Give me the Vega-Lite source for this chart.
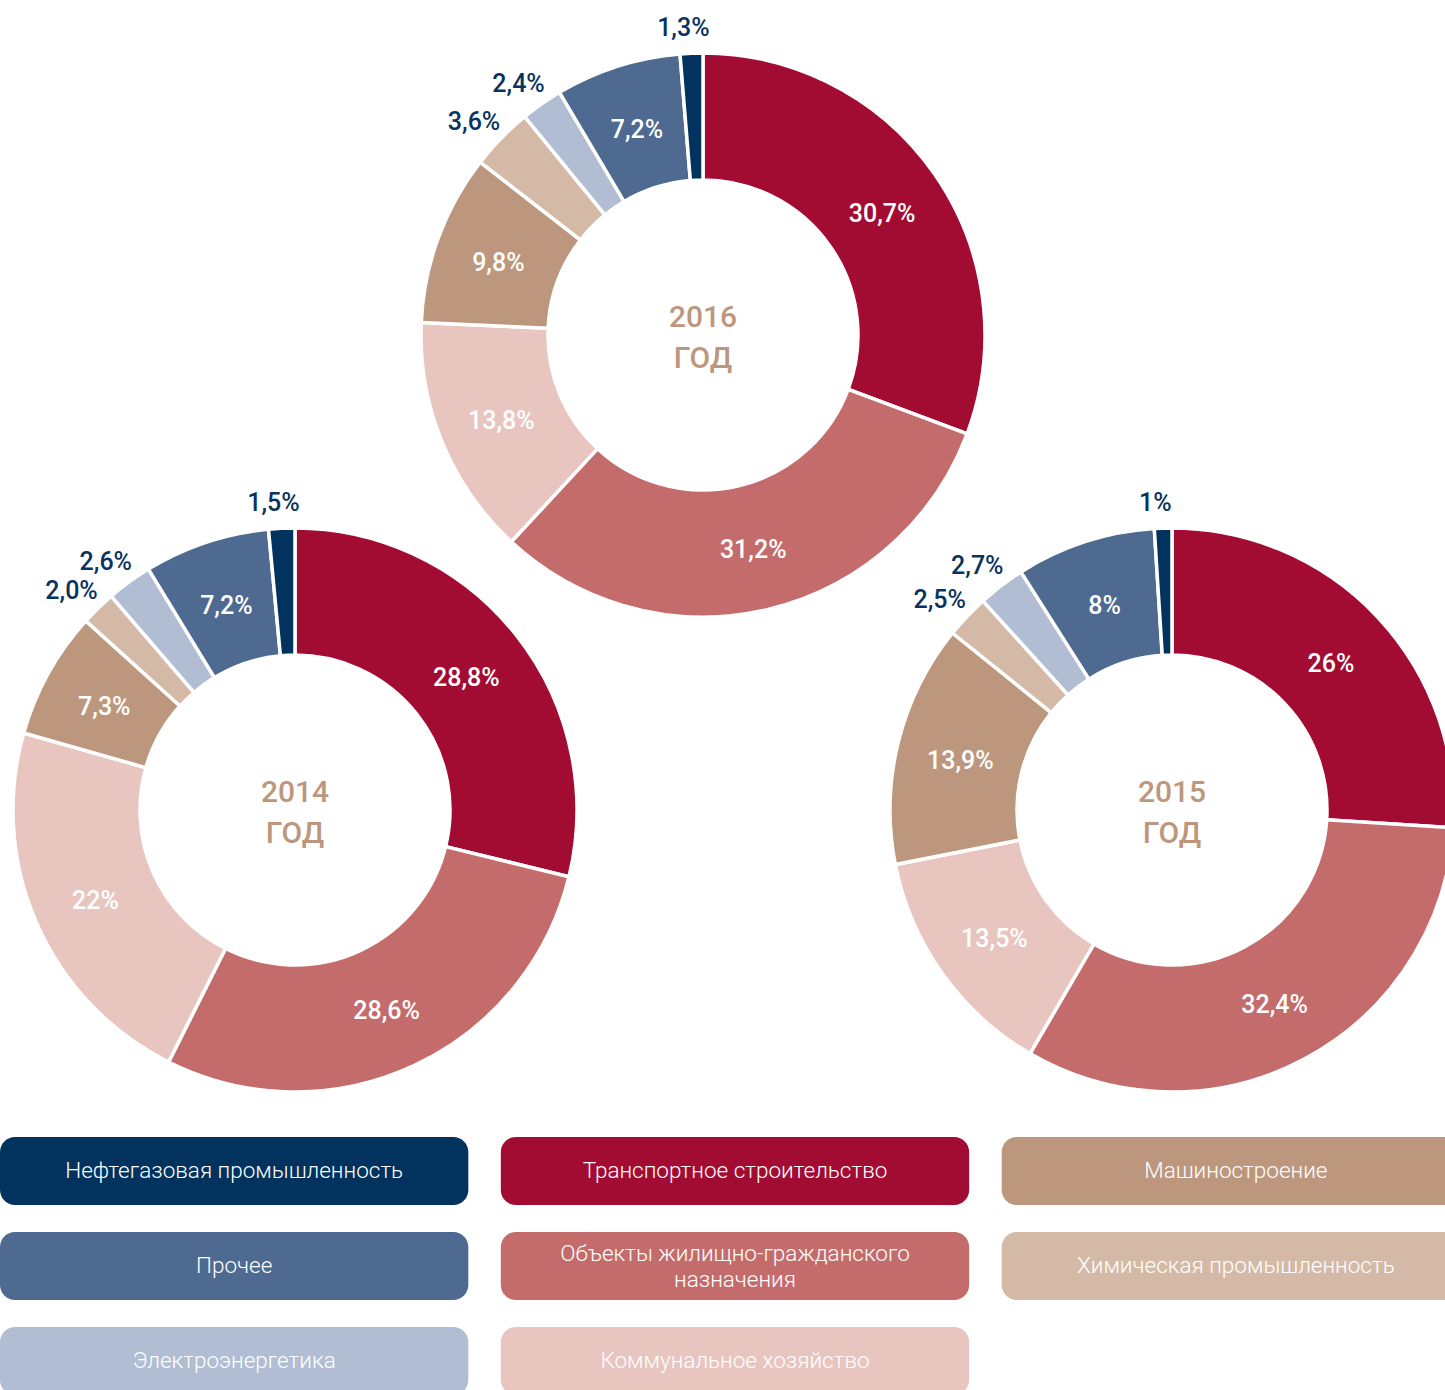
{
  "$schema": "https://vega.github.io/schema/vega-lite/v6.json",
  "autosize": {"type": "none"},
  "width": 1445,
  "height": 1390,
  "padding": 0,
  "background": "#ffffff",
  "config": {"view": {"stroke": null}, "font": "Roboto"},
  "datasets": {
    "shares": [
      {"year": 2014, "category": "Транспортное строительство", "n": 1, "value": 28.8, "label": "28,8%"},
      {"year": 2014, "category": "Объекты жилищно-гражданского\nназначения", "n": 2, "value": 28.6, "label": "28,6%"},
      {"year": 2014, "category": "Коммунальное хозяйство", "n": 3, "value": 22, "label": "22%"},
      {"year": 2014, "category": "Машиностроение", "n": 4, "value": 7.3, "label": "7,3%"},
      {"year": 2014, "category": "Химическая промышленность", "n": 5, "value": 2.0, "label": "2,0%"},
      {"year": 2014, "category": "Электроэнергетика", "n": 6, "value": 2.6, "label": "2,6%"},
      {"year": 2014, "category": "Прочее", "n": 7, "value": 7.2, "label": "7,2%"},
      {"year": 2014, "category": "Нефтегазовая промышленность", "n": 8, "value": 1.5, "label": "1,5%"},
      {"year": 2015, "category": "Транспортное строительство", "n": 1, "value": 26, "label": "26%"},
      {"year": 2015, "category": "Объекты жилищно-гражданского\nназначения", "n": 2, "value": 32.4, "label": "32,4%"},
      {"year": 2015, "category": "Коммунальное хозяйство", "n": 3, "value": 13.5, "label": "13,5%"},
      {"year": 2015, "category": "Машиностроение", "n": 4, "value": 13.9, "label": "13,9%"},
      {"year": 2015, "category": "Химическая промышленность", "n": 5, "value": 2.5, "label": "2,5%"},
      {"year": 2015, "category": "Электроэнергетика", "n": 6, "value": 2.7, "label": "2,7%"},
      {"year": 2015, "category": "Прочее", "n": 7, "value": 8, "label": "8%"},
      {"year": 2015, "category": "Нефтегазовая промышленность", "n": 8, "value": 1, "label": "1%"},
      {"year": 2016, "category": "Транспортное строительство", "n": 1, "value": 30.7, "label": "30,7%"},
      {"year": 2016, "category": "Объекты жилищно-гражданского\nназначения", "n": 2, "value": 31.2, "label": "31,2%"},
      {"year": 2016, "category": "Коммунальное хозяйство", "n": 3, "value": 13.8, "label": "13,8%"},
      {"year": 2016, "category": "Машиностроение", "n": 4, "value": 9.8, "label": "9,8%"},
      {"year": 2016, "category": "Химическая промышленность", "n": 5, "value": 3.6, "label": "3,6%"},
      {"year": 2016, "category": "Электроэнергетика", "n": 6, "value": 2.4, "label": "2,4%"},
      {"year": 2016, "category": "Прочее", "n": 7, "value": 7.2, "label": "7,2%"},
      {"year": 2016, "category": "Нефтегазовая промышленность", "n": 8, "value": 1.3, "label": "1,3%"}
    ],
    "years": [{"year": 2014}, {"year": 2015}, {"year": 2016}],
    "legend": [
      {"category": "Нефтегазовая промышленность", "col": 0, "row": 0},
      {"category": "Прочее", "col": 0, "row": 1},
      {"category": "Электроэнергетика", "col": 0, "row": 2},
      {"category": "Транспортное строительство", "col": 1, "row": 0},
      {"category": "Объекты жилищно-гражданского\nназначения", "col": 1, "row": 1},
      {"category": "Коммунальное хозяйство", "col": 1, "row": 2},
      {"category": "Машиностроение", "col": 2, "row": 0},
      {"category": "Химическая промышленность", "col": 2, "row": 1}
    ]
  },
  "resolve": {"scale": {"x": "independent", "y": "independent"}},
  "layer": [
    {
      "data": {"name": "shares"},
      "mark": {"type": "arc", "innerRadius": 155, "stroke": "#ffffff", "strokeWidth": 3.5},
      "encoding": {
        "x": {"field": "year", "type": "quantitative", "axis": null, "scale": {"domain": [2014, 2015, 2016], "range": [295, 1172, 703], "zero": false, "nice": false}},
        "y": {"field": "year", "type": "quantitative", "axis": null, "scale": {"domain": [2014, 2015, 2016], "range": [810, 810, 335], "zero": false, "nice": false}},
        "theta": {"field": "value", "type": "quantitative", "stack": true, "scale": {"domain": [0, 100]}},
        "radius": {"field": "year", "type": "quantitative", "scale": {"type": "linear", "domain": [2014, 2016], "range": [282, 282], "zero": false, "nice": false}},
        "order": {"field": "n", "type": "quantitative"},
        "color": {
          "field": "category", "type": "nominal", "legend": null,
          "scale": {
            "domain": ["Нефтегазовая промышленность", "Прочее", "Электроэнергетика", "Транспортное строительство", "Объекты жилищно-гражданского\nназначения", "Коммунальное хозяйство", "Машиностроение", "Химическая промышленность"],
            "range": ["#02335f", "#4e6a91", "#b1bdd2", "#a20c32", "#c46c6b", "#e8c5bf", "#bd977d", "#d4b9a7"]
          }
        }
      }
    },
    {
      "data": {"name": "shares"},
      "mark": {"type": "text", "radiusOffset": -64, "fontSize": 25, "fontWeight": 500, "fill": "#ffffff", "dy": 3},
      "encoding": {
        "x": {"field": "year", "type": "quantitative", "axis": null, "scale": {"domain": [2014, 2015, 2016], "range": [295, 1172, 703], "zero": false, "nice": false}},
        "y": {"field": "year", "type": "quantitative", "axis": null, "scale": {"domain": [2014, 2015, 2016], "range": [810, 810, 335], "zero": false, "nice": false}},
        "theta": {"field": "value", "type": "quantitative", "stack": true, "scale": {"domain": [0, 100]}},
        "radius": {"field": "year", "type": "quantitative", "scale": {"type": "linear", "domain": [2014, 2016], "range": [282, 282], "zero": false, "nice": false}},
        "order": {"field": "n", "type": "quantitative"},
        "text": {"condition": {"test": "datum.value >= 5", "field": "label", "type": "nominal"}, "value": ""}
      }
    },
    {
      "data": {"name": "shares"},
      "mark": {"type": "text", "radiusOffset": 28, "fontSize": 25, "fontWeight": 500, "fill": "#0a3260", "dx": -7, "dy": 3},
      "encoding": {
        "x": {"field": "year", "type": "quantitative", "axis": null, "scale": {"domain": [2014, 2015, 2016], "range": [295, 1172, 703], "zero": false, "nice": false}},
        "y": {"field": "year", "type": "quantitative", "axis": null, "scale": {"domain": [2014, 2015, 2016], "range": [810, 810, 335], "zero": false, "nice": false}},
        "theta": {"field": "value", "type": "quantitative", "stack": true, "scale": {"domain": [0, 100]}},
        "radius": {"field": "year", "type": "quantitative", "scale": {"type": "linear", "domain": [2014, 2016], "range": [282, 282], "zero": false, "nice": false}},
        "order": {"field": "n", "type": "quantitative"},
        "text": {"condition": {"test": "datum.value < 5", "field": "label", "type": "nominal"}, "value": ""}
      }
    },
    {
      "data": {"name": "years"},
      "mark": {"type": "text", "fontSize": 30, "fontWeight": 500, "fill": "#bd977d", "baseline": "alphabetic", "dy": -8},
      "encoding": {
        "x": {"field": "year", "type": "quantitative", "axis": null, "scale": {"domain": [2014, 2015, 2016], "range": [295, 1172, 703], "zero": false, "nice": false}},
        "y": {"field": "year", "type": "quantitative", "axis": null, "scale": {"domain": [2014, 2015, 2016], "range": [810, 810, 335], "zero": false, "nice": false}},
        "text": {"field": "year", "type": "nominal"}
      }
    },
    {
      "data": {"name": "years"},
      "mark": {"type": "text", "fontSize": 30, "fontWeight": 500, "fill": "#bd977d", "baseline": "alphabetic", "dy": 33},
      "encoding": {
        "x": {"field": "year", "type": "quantitative", "axis": null, "scale": {"domain": [2014, 2015, 2016], "range": [295, 1172, 703], "zero": false, "nice": false}},
        "y": {"field": "year", "type": "quantitative", "axis": null, "scale": {"domain": [2014, 2015, 2016], "range": [810, 810, 335], "zero": false, "nice": false}},
        "text": {"value": "ГОД"}
      }
    },
    {
      "data": {"name": "legend"},
      "mark": {"type": "rect", "cornerRadius": 15},
      "encoding": {
        "x": {"field": "col", "type": "ordinal", "axis": null, "scale": {"type": "band", "domain": [0, 1, 2], "range": [0, 1470], "paddingInner": 0.0649, "paddingOuter": 0}},
        "y": {"field": "row", "type": "ordinal", "axis": null, "scale": {"type": "band", "domain": [0, 1, 2], "range": [1137, 1395], "paddingInner": 0.284, "paddingOuter": 0}},
        "color": {"field": "category", "type": "nominal", "legend": null}
      }
    },
    {
      "data": {"name": "legend"},
      "mark": {"type": "text", "fontSize": 22.5, "fontWeight": 300, "fill": "#ffffff"},
      "encoding": {
        "x": {"field": "col", "type": "ordinal", "axis": null, "scale": {"type": "band", "domain": [0, 1, 2], "range": [0, 1470], "paddingInner": 0.0649, "paddingOuter": 0}},
        "y": {"field": "row", "type": "ordinal", "axis": null, "scale": {"type": "band", "domain": [0, 1, 2], "range": [1137, 1395], "paddingInner": 0.284, "paddingOuter": 0}},
        "text": {"condition": {"test": "indexof(datum.category, '\\n') < 0", "field": "category", "type": "nominal"}, "value": ""}
      }
    },
    {
      "data": {"name": "legend"},
      "mark": {"type": "text", "fontSize": 22.5, "fontWeight": 300, "fill": "#ffffff", "lineBreak": "\n", "lineHeight": 26, "dy": -12},
      "encoding": {
        "x": {"field": "col", "type": "ordinal", "axis": null, "scale": {"type": "band", "domain": [0, 1, 2], "range": [0, 1470], "paddingInner": 0.0649, "paddingOuter": 0}},
        "y": {"field": "row", "type": "ordinal", "axis": null, "scale": {"type": "band", "domain": [0, 1, 2], "range": [1137, 1395], "paddingInner": 0.284, "paddingOuter": 0}},
        "text": {"condition": {"test": "indexof(datum.category, '\\n') >= 0", "field": "category", "type": "nominal"}, "value": ""}
      }
    }
  ]
}
